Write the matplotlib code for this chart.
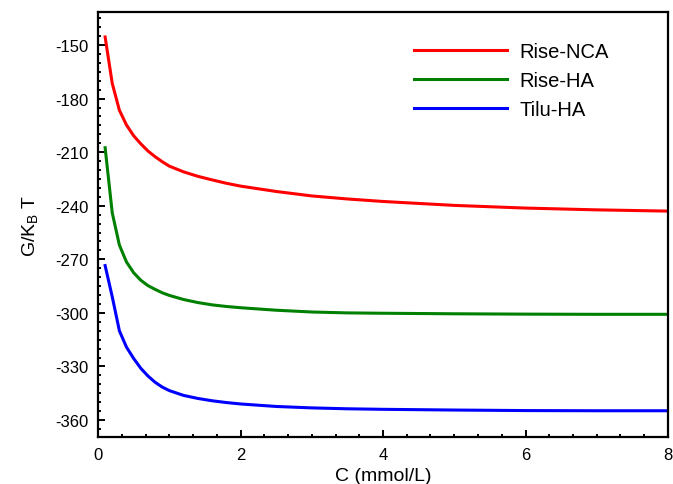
import matplotlib
matplotlib.use("Agg")
import matplotlib.pyplot as plt
from matplotlib.ticker import MultipleLocator, AutoMinorLocator

plt.rcParams['font.family'] = ['Liberation Sans', 'DejaVu Sans']
plt.rcParams['axes.unicode_minus'] = False

# concentration (mmol/L)
conc = [0.1, 0.2, 0.3, 0.4, 0.5, 0.6, 0.7, 0.8, 0.9, 1.0, 1.2, 1.4, 1.6,
        1.8, 2.0, 2.5, 3.0, 3.5, 4.0, 5.0, 6.0, 7.0, 8.0]

# G/KBT for each system
rise_nca = [-145.5, -171.5, -186.5, -194.8, -200.8, -205.3, -209.3, -212.5,
            -215.3, -217.8, -221.0, -223.5, -225.5, -227.4, -229.0, -232.0,
            -234.5, -236.2, -237.6, -239.8, -241.3, -242.3, -243.0]
rise_ha = [-207.5, -244.0, -262.0, -271.5, -277.5, -281.7, -284.7, -286.8,
           -288.7, -290.2, -292.5, -294.2, -295.5, -296.4, -297.1, -298.5,
           -299.5, -300.0, -300.2, -300.5, -300.7, -300.8, -300.8]
tilu_ha = [-273.5, -291.0, -310.0, -319.2, -325.5, -331.0, -335.3, -338.8,
           -341.5, -343.5, -346.2, -347.9, -349.2, -350.2, -351.0, -352.4,
           -353.2, -353.7, -354.0, -354.4, -354.7, -354.8, -354.8]

fig = plt.figure(figsize=(6.73, 4.85), dpi=100)
ax = fig.add_axes([98/673, 1 - 438/485, 570/673, 425/485])

ax.plot(conc, rise_nca, color='#ff0000', lw=2.2, label='Rise-NCA')
ax.plot(conc, rise_ha, color='#008000', lw=2.2, label='Rise-HA')
ax.plot(conc, tilu_ha, color='#0000ff', lw=2.2, label='Tilu-HA')

ax.set_xlim(0, 8)
ax.set_ylim(-369.5, -131.5)
ax.xaxis.set_major_locator(MultipleLocator(2))
ax.xaxis.set_minor_locator(AutoMinorLocator(6))
ax.yaxis.set_major_locator(MultipleLocator(30))
ax.yaxis.set_minor_locator(MultipleLocator(5))

for s in ax.spines.values():
    s.set_linewidth(1.6)
ax.tick_params(which='both', direction='in', top=False, right=False, width=1.4)
ax.tick_params(which='major', length=5, labelsize=12, pad=7)
ax.tick_params(which='minor', length=2.5)

ax.set_xlabel('C (mmol/L)', fontsize=14, labelpad=4)
ax.set_ylabel('G/K$_\\mathregular{B}$ T', fontsize=14, labelpad=10)

ax.legend(loc='upper left', bbox_to_anchor=(316/570, 0.93), frameon=False,
          borderpad=0, borderaxespad=0,
          fontsize=14.5, handlelength=4.6, handletextpad=0.65, labelspacing=0.5)

fig.savefig('out.png', dpi=100)
